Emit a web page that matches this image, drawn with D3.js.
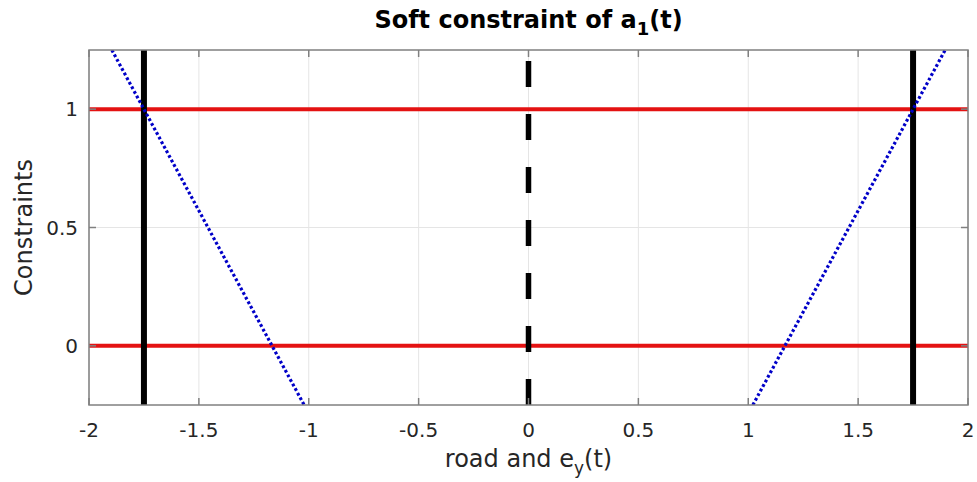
<!DOCTYPE html>
<html><head><meta charset="utf-8">
<script src="https://cdn.jsdelivr.net/npm/d3@7"></script>
<style>body{margin:0;background:#fff;} svg{display:block;font-family:"DejaVu Sans",sans-serif;}</style>
</head><body>
<script>
const xTicks = [-2, -1.5, -1, -0.5, 0, 0.5, 1, 1.5, 2];
const yTicks = [0, 0.5, 1];
const xDomain = [-2, 2];
const yDomain = [-0.25, 1.25];
const redLevels = [0, 1];
const roadEdges = [-1.75, 1.75];
const centerLine = [0];
const blueLeft = [{x: -1.896, y: 1.25}, {x: -1.021, y: -0.25}];
const blueRight = [{x: 1.021, y: -0.25}, {x: 1.896, y: 1.25}];

const W = 977, H = 482;
const m = {l: 89, r: 9, t: 50, b: 77};
const svg = d3.select("body").append("svg").attr("width", W).attr("height", H);
const x = d3.scaleLinear().domain(xDomain).range([m.l, W - m.r]);
const y = d3.scaleLinear().domain(yDomain).range([H - m.b, m.t]);
const gridC = "#e5e5e5", axC = "#808080", txtC = "#262626";

// grid
svg.append("g").selectAll("line").data(xTicks).join("line")
  .attr("x1", d => x(d)).attr("x2", d => x(d)).attr("y1", y.range()[1]).attr("y2", y.range()[0])
  .attr("stroke", gridC).attr("stroke-width", 1);
svg.append("g").selectAll("line").data(yTicks).join("line")
  .attr("y1", d => y(d)).attr("y2", d => y(d)).attr("x1", x.range()[0]).attr("x2", x.range()[1])
  .attr("stroke", gridC).attr("stroke-width", 1);

svg.append("clipPath").attr("id", "c").append("rect")
  .attr("x", m.l).attr("y", m.t).attr("width", W - m.l - m.r).attr("height", H - m.t - m.b);
const plot = svg.append("g").attr("clip-path", "url(#c)");

// red horizontal lines
plot.selectAll(".red").data(redLevels).join("line")
  .attr("x1", x(xDomain[0])).attr("x2", x(xDomain[1])).attr("y1", d => y(d)).attr("y2", d => y(d))
  .attr("stroke", "#e41212").attr("stroke-width", 4);

// black road edges
plot.selectAll(".edge").data(roadEdges).join("line")
  .attr("x1", d => x(d)).attr("x2", d => x(d)).attr("y1", y(yDomain[0])).attr("y2", y(yDomain[1]))
  .attr("stroke", "#000").attr("stroke-width", 6);

// dashed center
plot.selectAll(".center").data(centerLine).join("line")
  .attr("x1", d => x(d)).attr("x2", d => x(d)).attr("y1", y(yDomain[0])).attr("y2", y(yDomain[1]))
  .attr("stroke", "#000").attr("stroke-width", 5.5).attr("stroke-dasharray", "26,27");

// blue dotted lines
const line = d3.line().x(d => x(d.x)).y(d => y(d.y));
[blueLeft, blueRight].forEach(s => {
  plot.append("path").attr("d", line(s)).attr("fill", "none")
    .attr("stroke", "#0000c8").attr("stroke-width", 3.2).attr("stroke-dasharray", "2.8,2.4");
});

// axes box
const ax = svg.append("g");
ax.append("rect").attr("x", m.l).attr("y", m.t).attr("width", W - m.l - m.r).attr("height", H - m.t - m.b)
  .attr("fill", "none").attr("stroke", axC).attr("stroke-width", 1.5);
const tl = 7;
xTicks.forEach(t => {
  ax.append("line").attr("x1", x(t)).attr("x2", x(t)).attr("y1", y.range()[0]).attr("y2", y.range()[0] - tl).attr("stroke", axC).attr("stroke-width", 1.5);
  ax.append("line").attr("x1", x(t)).attr("x2", x(t)).attr("y1", y.range()[1]).attr("y2", y.range()[1] + tl).attr("stroke", axC).attr("stroke-width", 1.5);
});
yTicks.forEach(t => {
  ax.append("line").attr("y1", y(t)).attr("y2", y(t)).attr("x1", x.range()[0]).attr("x2", x.range()[0] + tl).attr("stroke", axC).attr("stroke-width", 1.5);
  ax.append("line").attr("y1", y(t)).attr("y2", y(t)).attr("x1", x.range()[1]).attr("x2", x.range()[1] - tl).attr("stroke", axC).attr("stroke-width", 1.5);
});
ax.selectAll(".xt").data(xTicks).join("text")
  .attr("x", d => x(d)).attr("y", 437).attr("text-anchor", "middle")
  .attr("font-size", 20).attr("fill", txtC).text(d => String(d));
ax.selectAll(".yt").data(yTicks).join("text")
  .attr("x", 78).attr("y", d => y(d) + 7.3).attr("text-anchor", "end")
  .attr("font-size", 20).attr("fill", txtC).text(d => String(d));

// labels
const xl = svg.append("text").attr("x", x(0)).attr("y", 467).attr("text-anchor", "middle")
  .attr("font-size", 24).attr("fill", txtC);
xl.append("tspan").text("road and e");
xl.append("tspan").attr("font-size", 17).attr("dy", 7).text("y");
xl.append("tspan").attr("dy", -7).text("(t)");

svg.append("text").attr("transform", `translate(32,${y(0.5)}) rotate(-90)`).attr("text-anchor", "middle")
  .attr("font-size", 24).attr("fill", txtC).text("Constraints");

const tt = svg.append("text").attr("x", x(0)).attr("y", 28).attr("text-anchor", "middle")
  .attr("font-size", 24).attr("font-weight", "bold").attr("fill", "#000");
tt.append("tspan").text("Soft constraint of a");
tt.append("tspan").attr("font-size", 18).attr("dy", 7).text("1");
tt.append("tspan").attr("dy", -7).text("(t)");
</script>
</body></html>
